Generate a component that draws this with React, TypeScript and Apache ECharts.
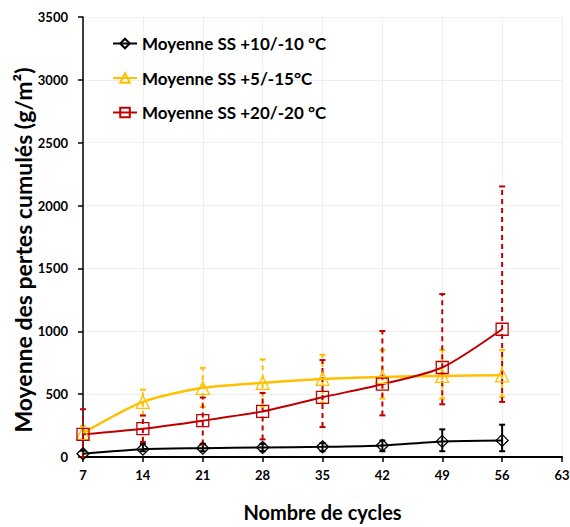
import React, { useEffect, useRef } from "react";
import * as echarts from "echarts";

const cycles = [7, 14, 21, 28, 35, 42, 49, 56];
const seriesNames = ["Moyenne SS +10/-10 °C", "Moyenne SS +5/-15°C", "Moyenne SS +20/-20 °C"];

const blackValues = [26, 62, 70, 76, 81, 92, 124, 132];
const blackLow = [0, 46, 46, 46, 46, 46, 46, 46];
const blackHigh = [50, 105, 105, 105, 110, 131, 220, 257];

const yellowValues = [190, 438, 550, 590, 621, 637, 645, 650];
const yellowLow = [140, 331, 398, 404, 429, 465, 465, 480];
const yellowHigh = [246, 535, 709, 776, 813, 850, 850, 850];

const redValues = [180, 225, 289, 363, 475, 579, 712, 1016];
const redLow = [0, 120, 100, 140, 238, 331, 419, 438];
const redHigh = [380, 330, 473, 510, 771, 1002, 1296, 2152];

const colors = ["#000000", "#FFC000", "#C00000"];
const FONT = "Lato, 'Open Sans', sans-serif";

function errSeries(low: number[], high: number[], color: string, dashed: boolean) {
  return {
    type: "custom",
    silent: true,
    z: 1,
    data: cycles.map((c, i) => [c, low[i], high[i]]),
    encode: { x: 0, y: [1, 2] },
    renderItem: (params: any, api: any) => {
      const x = api.value(0);
      const lo = api.coord([x, api.value(1)]);
      const hi = api.coord([x, api.value(2)]);
      const style = {
        stroke: color,
        lineWidth: 2,
        lineDash: dashed ? [5, 4] : null,
      };
      const capStyle = { stroke: color, lineWidth: 2 };
      const hw = 3;
      return {
        type: "group",
        children: [
          { type: "line", shape: { x1: lo[0], y1: lo[1], x2: hi[0], y2: hi[1] }, style },
          { type: "line", shape: { x1: hi[0] - hw, y1: hi[1], x2: hi[0] + hw, y2: hi[1] }, style: capStyle },
          { type: "line", shape: { x1: lo[0] - hw, y1: lo[1], x2: lo[0] + hw, y2: lo[1] }, style: capStyle },
        ],
      };
    },
  };
}

function lineSeries(name: string, values: number[], color: string, symbol: string, size: number, width: number) {
  return {
    name,
    type: "line",
    z: 3,
    data: cycles.map((c, i) => [c, values[i]]),
    symbol,
    symbolSize: size,
    showAllSymbol: true,
    smooth: 0.25,
    lineStyle: { color, width },
    itemStyle: { color: "rgba(255,255,255,0)", borderColor: color, borderWidth: 1.3 },
  };
}

export default function App() {
  const ref = useRef<HTMLDivElement>(null);
  useEffect(() => {
    if (!ref.current) return;
    const chart = echarts.init(ref.current, undefined, { renderer: "svg" });
    chart.setOption({
      animation: false,
      backgroundColor: "#ffffff",
      textStyle: { fontFamily: FONT },
      grid: { left: 83, right: 8, top: 17, bottom: 70, containLabel: false, outerBoundsMode: "none" },
      legend: {
        data: seriesNames,
        orient: "vertical",
        left: 112,
        top: 35,
        padding: 0,
        itemGap: 17.5,
        itemWidth: 24,
        itemHeight: 12,
        textStyle: { fontFamily: FONT, fontWeight: "bold", fontSize: 17, color: "#000" },
      },
      xAxis: {
        type: "value",
        min: 7,
        max: 63,
        interval: 7,
        name: "Nombre de cycles",
        nameLocation: "middle",
        nameGap: 45,
        nameMoveOverlap: false,
        nameTextStyle: { fontFamily: FONT, fontWeight: "bold", fontSize: 20, color: "#000" },
        axisLine: { lineStyle: { color: "#000", width: 2 } },
        axisTick: { show: true, length: 5, lineStyle: { color: "#000", width: 1.5 } },
        axisLabel: { color: "#000", fontWeight: "bold", fontSize: 13, margin: 11, fontFamily: FONT },
        splitLine: { show: true, lineStyle: { color: "#eeeeee", width: 1 } },
      },
      yAxis: {
        type: "value",
        min: 0,
        max: 3500,
        interval: 500,
        name: "Moyenne des pertes cumulés (g/m²)",
        nameLocation: "middle",
        nameGap: 49,
        nameMoveOverlap: false,
        nameTextStyle: {
          fontFamily: FONT,
          fontWeight: "bold",
          fontSize: 23,
          color: "#000",
          padding: [0, 26, 0, 0],
        },
        axisLine: { show: true, lineStyle: { color: "#000", width: 1.5 } },
        axisTick: { show: true, length: 5, lineStyle: { color: "#000", width: 1.5 } },
        axisLabel: {
          color: "#000",
          fontWeight: "bold",
          fontSize: 13,
          margin: 15,
          fontFamily: FONT,
          formatter: (v: number) => String(v),
        },
        splitLine: { show: true, lineStyle: { color: "#eeeeee", width: 1 } },
      },
      series: [
        errSeries(blackLow, blackHigh, colors[0], false),
        errSeries(yellowLow, yellowHigh, colors[1], true),
        errSeries(redLow, redHigh, colors[2], true),
        lineSeries(seriesNames[0], blackValues, colors[0], "diamond", 12, 2),
        lineSeries(seriesNames[1], yellowValues, colors[1], "triangle", 13, 2.5),
        lineSeries(seriesNames[2], redValues, colors[2], "rect", 12, 2),
      ],
    });
    return () => chart.dispose();
  }, []);
  return (
    <div
      ref={ref}
      style={{ position: "fixed", left: 0, top: 0, width: 570, height: 527, background: "#fff" }}
    />
  );
}
